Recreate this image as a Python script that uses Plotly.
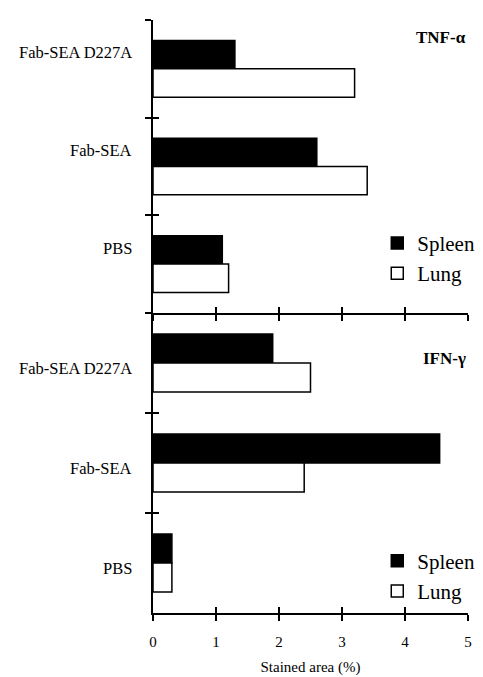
import plotly.graph_objects as go

groups = ["Fab-SEA D227A", "Fab-SEA", "PBS"]
tnf_spleen = [1.3, 2.6, 1.1]
tnf_lung = [3.2, 3.4, 1.2]
ifn_spleen = [1.9, 4.55, 0.3]
ifn_lung = [2.5, 2.4, 0.3]
x_ticks = [0, 1, 2, 3, 4, 5]
panel_titles = ["TNF-α", "IFN-γ"]
series_names = ["Spleen", "Lung"]

FONT = "Liberation Serif, Times New Roman, DejaVu Serif, serif"
BLACK = "#000000"

fig = go.Figure()

def add_panel(spleen, lung, xa, ya, leg):
    fig.add_trace(go.Bar(x=spleen, y=groups, orientation="h", name=series_names[0],
                         xaxis=xa, yaxis=ya, legend=leg,
                         marker=dict(color=BLACK, line=dict(color=BLACK, width=1.5))))
    fig.add_trace(go.Bar(x=lung, y=groups, orientation="h", name=series_names[1],
                         xaxis=xa, yaxis=ya, legend=leg,
                         marker=dict(color="#ffffff", line=dict(color=BLACK, width=1.5))))

add_panel(tnf_spleen, tnf_lung, "x", "y", "legend")
add_panel(ifn_spleen, ifn_lung, "x2", "y2", "legend2")

# empty traces for overlay axes (inside ticks so that ticks cross the lines)
for xa, ya in [("x3", "y"), ("x4", "y2"), ("x", "y3"), ("x2", "y4")]:
    fig.add_trace(go.Scatter(x=[], y=[], xaxis=xa, yaxis=ya, showlegend=False, hoverinfo="skip"))

split = 0.506
xcommon = dict(range=[0, 5], tickvals=x_ticks, showgrid=False, zeroline=False, automargin=False,
               ticklen=6, tickwidth=2, tickcolor=BLACK, fixedrange=True)
ycat = dict(type="category", categoryarray=groups, autorange="reversed", showgrid=False,
            zeroline=False, showline=True, linewidth=2, linecolor=BLACK, automargin=False,
            ticks="outside", tickson="boundaries", ticklen=6, tickwidth=2, tickcolor=BLACK,
            showticklabels=False)
yover = dict(range=[2.5, -0.5], tickvals=[-0.5, 0.5, 1.5, 2.5], showgrid=False, zeroline=False,
             showline=False, ticks="inside", ticklen=6, tickwidth=2, tickcolor=BLACK,
             showticklabels=False, automargin=False)

annotations = [
    dict(text="<b>%s</b>" % panel_titles[0], xref="paper", yref="paper", x=1.0, y=0.97,
         xanchor="right", yanchor="middle", showarrow=False,
         font=dict(family=FONT, size=17, color=BLACK)),
    dict(text="<b>%s</b>" % panel_titles[1], xref="paper", yref="paper", x=1.0, y=0.43,
         xanchor="right", yanchor="middle", showarrow=False,
         font=dict(family=FONT, size=17, color=BLACK)),
]
# category labels (the two panels were set slightly differently in the original)
for yref, shift in [("y", 16), ("y2", -6)]:
    for g in groups:
        annotations.append(dict(text=g, xref="paper", yref=yref, x=0, y=g, xanchor="right",
                                yanchor="middle", xshift=-19, yshift=shift, showarrow=False,
                                font=dict(family=FONT, size=16.5, color=BLACK)))

fig.update_layout(
    width=483, height=677,
    margin=dict(l=145, r=23, t=12, b=72, autoexpand=False),
    paper_bgcolor="white", plot_bgcolor="white",
    barmode="group", bargap=0.42, bargroupgap=0,
    font=dict(family=FONT, color=BLACK),
    xaxis=dict(**xcommon, anchor="y", domain=[0, 1], showline=True, linewidth=2, linecolor=BLACK,
               ticks="outside", showticklabels=False),
    xaxis2=dict(**xcommon, anchor="y2", domain=[0, 1], showline=True, linewidth=2, linecolor=BLACK,
                ticks="outside", showticklabels=True, ticklabelstandoff=8,
                tickfont=dict(family=FONT, size=15, color=BLACK),
                title=dict(text="Stained area (%)", font=dict(family=FONT, size=15, color=BLACK), standoff=12)),
    xaxis3=dict(**xcommon, anchor="y", overlaying="x", side="bottom", showline=False,
                ticks="inside", showticklabels=False),
    xaxis4=dict(**xcommon, anchor="y2", overlaying="x2", side="bottom", showline=False,
                ticks="inside", showticklabels=False),
    yaxis=dict(**ycat, anchor="x", domain=[split, 1]),
    yaxis2=dict(**ycat, anchor="x2", domain=[0, split]),
    yaxis3=dict(**yover, anchor="x", overlaying="y", side="left"),
    yaxis4=dict(**yover, anchor="x2", overlaying="y2", side="left"),
    legend=dict(x=0.712, y=0.658, xanchor="left", yanchor="top", bgcolor="rgba(0,0,0,0)",
                font=dict(family=FONT, size=21, color=BLACK), tracegroupgap=0),
    legend2=dict(x=0.712, y=0.122, xanchor="left", yanchor="top", bgcolor="rgba(0,0,0,0)",
                 font=dict(family=FONT, size=21, color=BLACK), tracegroupgap=0),
    showlegend=True,
    annotations=annotations,
)

fig.write_html("out.html")
